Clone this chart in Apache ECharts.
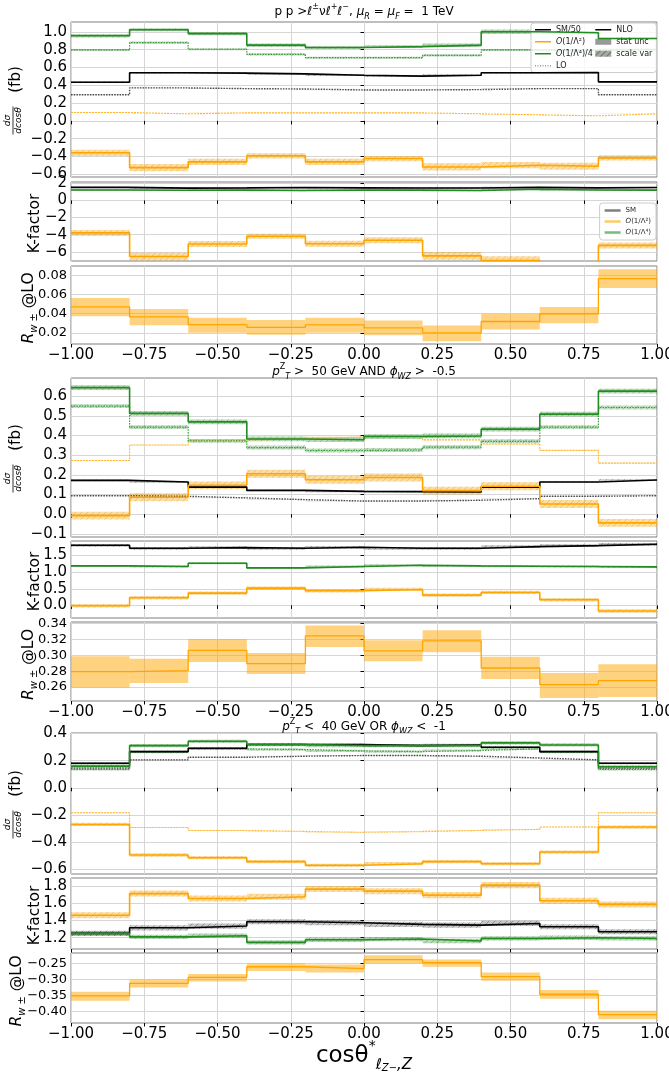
<!DOCTYPE html>
<html>
<head>
<meta charset="utf-8">
<script src="https://cdn.jsdelivr.net/npm/echarts@6/dist/echarts.min.js"></script>
<style>
  html, body { margin: 0; padding: 0; background: #fff; }
  #chart { width: 669px; height: 1074px; }
</style>
</head>
<body>
<div id="chart"></div>
<script>
// cos(theta*) bin edges shared by every panel
const binEdges = [-1.0, -0.8, -0.6, -0.4, -0.2, 0.0, 0.2, 0.4, 0.6, 0.8, 1.0];

// ---- selection 1: inclusive ----
const p1SmNlo = [0.434, 0.540, 0.536, 0.528, 0.513, 0.502, 0.513, 0.540, 0.543, 0.438];
const p1SmLo  = [0.294, 0.370, 0.362, 0.358, 0.347, 0.347, 0.351, 0.362, 0.362, 0.294];
const p1Q2Nlo = [-0.358, -0.525, -0.460, -0.392, -0.460, -0.423, -0.517, -0.498, -0.509, -0.415];
const p1Q2Lo  = [0.094, 0.079, 0.090, 0.090, 0.090, 0.090, 0.079, 0.068, 0.057, 0.079];
const p1Q4Nlo = [0.955, 1.023, 0.980, 0.850, 0.823, 0.834, 0.850, 1.000, 0.990, 0.925];
const p1Q4Lo  = [0.796, 0.879, 0.804, 0.747, 0.709, 0.709, 0.736, 0.796, 0.790, 0.800];
const p1Q2NloErr = [0.035, 0.040, 0.035, 0.030, 0.035, 0.030, 0.040, 0.035, 0.040, 0.030];
const p1Q4NloErr = [0.020, 0.018, 0.018, 0.020, 0.015, 0.015, 0.020, 0.025, 0.020, 0.015];
const p1KSm = [1.52, 1.44, 1.46, 1.50, 1.47, 1.45, 1.45, 1.52, 1.47, 1.50];
const p1KQ2 = [-3.79, -6.55, -5.09, -4.18, -5.05, -4.65, -6.47, -7.02, -8.90, -5.25];
const p1KQ4 = [1.22, 1.18, 1.22, 1.16, 1.20, 1.20, 1.16, 1.30, 1.22, 1.20];
const p1KQ2Err = [0.35, 0.45, 0.35, 0.30, 0.35, 0.35, 0.45, 0.50, 0.60, 0.35];
const p1R   = [0.0472, 0.0367, 0.0287, 0.0259, 0.0284, 0.0252, 0.0200, 0.0319, 0.0400, 0.0765];
const p1RLo = [0.0374, 0.0280, 0.0203, 0.0180, 0.0203, 0.0176, 0.0113, 0.0235, 0.0300, 0.0668];
const p1RHi = [0.0563, 0.0450, 0.0357, 0.0336, 0.0357, 0.0330, 0.0277, 0.0400, 0.0469, 0.0863];

// ---- selection 2: pT(Z) > 50 GeV AND phi_WZ > -0.5 ----
const p2SmNlo = [0.172, 0.164, 0.138, 0.121, 0.116, 0.115, 0.113, 0.138, 0.164, 0.174];
const p2SmLo  = [0.094, 0.091, 0.083, 0.074, 0.067, 0.067, 0.071, 0.079, 0.091, 0.094];
const p2Q2Nlo = [-0.007, 0.086, 0.147, 0.206, 0.175, 0.187, 0.120, 0.142, 0.052, -0.044];
const p2Q2Lo  = [0.273, 0.352, 0.378, 0.383, 0.393, 0.400, 0.378, 0.357, 0.325, 0.260];
const p2Q4Nlo = [0.644, 0.513, 0.470, 0.383, 0.379, 0.395, 0.398, 0.433, 0.509, 0.626];
const p2Q4Lo  = [0.550, 0.443, 0.373, 0.339, 0.324, 0.327, 0.341, 0.371, 0.443, 0.543];
const p2KSm = [1.81, 1.72, 1.74, 1.72, 1.75, 1.72, 1.72, 1.77, 1.80, 1.84];
const p2KQ2 = [-0.01, 0.23, 0.37, 0.52, 0.44, 0.48, 0.31, 0.39, 0.17, -0.17];
const p2KQ4 = [1.19, 1.17, 1.27, 1.13, 1.17, 1.21, 1.19, 1.18, 1.17, 1.16];
const p2R   = [0.2794, 0.2806, 0.3063, 0.2895, 0.3244, 0.3055, 0.3181, 0.2840, 0.2630, 0.2680];
const p2RLo = [0.2592, 0.2650, 0.2916, 0.2764, 0.3105, 0.2924, 0.3038, 0.2701, 0.2461, 0.2474];
const p2RHi = [0.2987, 0.2958, 0.3206, 0.3030, 0.3375, 0.3190, 0.3316, 0.2983, 0.2777, 0.2886];

// ---- selection 3: pT(Z) < 40 GeV OR phi_WZ < -1 ----
const p3SmNlo = [0.181, 0.267, 0.292, 0.319, 0.319, 0.311, 0.316, 0.299, 0.267, 0.181];
const p3SmLo  = [0.145, 0.206, 0.225, 0.233, 0.238, 0.238, 0.233, 0.220, 0.206, 0.145];
const p3Q2Nlo = [-0.270, -0.495, -0.515, -0.544, -0.571, -0.559, -0.544, -0.559, -0.473, -0.289];
const p3Q2Lo  = [-0.184, -0.292, -0.314, -0.321, -0.328, -0.323, -0.314, -0.306, -0.289, -0.184];
const p3Q4Nlo = [0.160, 0.311, 0.343, 0.319, 0.311, 0.311, 0.311, 0.331, 0.316, 0.155];
const p3Q4Lo  = [0.135, 0.262, 0.287, 0.282, 0.272, 0.267, 0.275, 0.287, 0.262, 0.135];
const p3KSm = [1.250, 1.315, 1.335, 1.385, 1.373, 1.354, 1.346, 1.365, 1.327, 1.269];
const p3KQ2 = [1.460, 1.710, 1.654, 1.673, 1.762, 1.738, 1.692, 1.808, 1.627, 1.585];
const p3KQ4 = [1.250, 1.210, 1.223, 1.146, 1.177, 1.185, 1.162, 1.192, 1.200, 1.192];
const p3R   = [-0.351, -0.312, -0.293, -0.260, -0.266, -0.238, -0.247, -0.291, -0.346, -0.410];
const p3RLo = [-0.366, -0.325, -0.306, -0.273, -0.278, -0.250, -0.260, -0.304, -0.360, -0.424];
const p3RHi = [-0.338, -0.300, -0.283, -0.250, -0.253, -0.224, -0.237, -0.278, -0.333, -0.398];

// y tick labels of the nine panels
const p1MainTicks = [-0.6, -0.4, -0.2, 0.0, 0.2, 0.4, 0.6, 0.8, 1.0];
const p1KTicks    = [-6, -4, -2, 0, 2];
const p1RTicks    = [0.02, 0.04, 0.06, 0.08];
const p2MainTicks = [-0.1, 0.0, 0.1, 0.2, 0.3, 0.4, 0.5, 0.6];
const p2KTicks    = [0.0, 0.5, 1.0, 1.5];
const p2RTicks    = [0.26, 0.28, 0.30, 0.32, 0.34];
const p3MainTicks = [-0.6, -0.4, -0.2, 0.0, 0.2, 0.4];
const p3KTicks    = [1.2, 1.4, 1.6, 1.8];
const p3RTicks    = [-0.40, -0.35, -0.30, -0.25];

// panel layout (pixels), y ranges and where each rotated y title sits
const PLOT_LEFT = 71, PLOT_RIGHT = 12;
const panels = [
  { top: 22,  height: 155, ymin: -0.63,  ymax: 1.11,  ticks: p1MainTicks, dec: 1, kind: 'main', nameX: 16 },
  { top: 182, height: 79,  ymin: -7.07,  ymax: 2.15,  ticks: p1KTicks,    dec: 0, kind: 'k', nameX: 34.5 },
  { top: 266, height: 78,  ymin: 0.0085, ymax: 0.0897, ticks: p1RTicks,   dec: 2, kind: 'r', nameX: 29 },
  { top: 378, height: 159, ymin: -0.116, ymax: 0.693, ticks: p2MainTicks, dec: 1, kind: 'main', nameX: 16 },
  { top: 541, height: 77,  ymin: -0.38,  ymax: 1.94,  ticks: p2KTicks,    dec: 1, kind: 'k', nameX: 34.5 },
  { top: 622, height: 79,  ymin: 0.2424, ymax: 0.342, ticks: p2RTicks,    dec: 2, kind: 'r', nameX: 29 },
  { top: 733, height: 141, ymin: -0.635, ymax: 0.404, ticks: p3MainTicks, dec: 1, kind: 'main', nameX: 16 },
  { top: 878, height: 71,  ymin: 1.07,   ymax: 1.89,  ticks: p3KTicks,    dec: 1, kind: 'k', nameX: 34.5 },
  { top: 953, height: 70,  ymin: -0.436, ymax: -0.217, ticks: p3RTicks,   dec: 2, kind: 'r', nameX: 17 }
];

const C_SM = '#000000', C_Q2 = '#ffa500', C_Q4 = '#228b22';
const FONT = 'DejaVu Sans';

function hatch(stroke, bg) {
  const c = document.createElement('canvas');
  c.width = 6; c.height = 6;
  const g = c.getContext('2d');
  if (bg) { g.fillStyle = bg; g.fillRect(0, 0, 6, 6); }
  g.strokeStyle = stroke; g.lineWidth = 0.8;
  g.beginPath();
  g.moveTo(0, 6); g.lineTo(6, 0);
  g.moveTo(-1, 1); g.lineTo(1, -1);
  g.moveTo(5, 7); g.lineTo(7, 5);
  g.stroke();
  return { image: c, repeat: 'repeat' };
}
const fills = {
  sm: 'rgba(0,0,0,0.22)', q2: 'rgba(255,165,0,0.38)', q4: 'rgba(34,139,34,0.33)',
  r: 'rgba(255,165,0,0.5)'
};
const hatches = {
  sm: hatch('rgba(0,0,0,0.35)'), q2: hatch('rgba(230,140,0,0.45)'), q4: hatch('rgba(20,110,20,0.35)')
};

function fmt(dec) {
  return v => (v < -1e-9 ? '\u2212' : '') + Math.abs(v).toFixed(dec);
}
function stepData(vals) {
  return binEdges.map((x, i) => [x, vals[Math.min(i, vals.length - 1)]]);
}
function spread(vals, err) {
  return vals.map((v, i) => {
    const e = Array.isArray(err) ? err[i] : err;
    return [binEdges[i], binEdges[i + 1], v - e, v + e];
  });
}
function rangeData(lo, hi) {
  return lo.map((l, i) => [binEdges[i], binEdges[i + 1], l, hi[i]]);
}

const series = [];
function band(gi, data, fill, pattern) {
  series.push({
    type: 'custom', xAxisIndex: gi, yAxisIndex: gi, data, z: 2, silent: true,
    encode: { x: [0, 1], y: [2, 3] },
    renderItem: (params, api) => {
      const p0 = api.coord([api.value(0), api.value(3)]);
      const p1 = api.coord([api.value(1), api.value(2)]);
      const cs = params.coordSys;
      const shape = echarts.graphic.clipRectByRect(
        { x: p0[0], y: p0[1], width: p1[0] - p0[0], height: p1[1] - p0[1] },
        { x: cs.x, y: cs.y, width: cs.width, height: cs.height });
      if (!shape) return null;
      const children = [{ type: 'rect', shape, style: { fill } }];
      if (pattern) children.push({ type: 'rect', shape, style: { fill: pattern } });
      return { type: 'group', children };
    }
  });
}
function step(gi, name, vals, color, width, dash, z) {
  series.push({
    type: 'line', name, xAxisIndex: gi, yAxisIndex: gi, data: stepData(vals),
    step: 'end', symbol: 'none', showSymbol: false, clip: true, silent: true, z: z || 4,
    lineStyle: { color, width, type: dash || 'solid' }, itemStyle: { color }
  });
}

// main distributions: NLO and LO with uncertainty bands
function mainPanel(gi, tag, d, smName, q2Name, q4Name, loName) {
  band(gi, spread(d.smNlo, d.smErr), fills.sm, hatches.sm);
  band(gi, spread(d.smLo, d.smLoErr), 'rgba(0,0,0,0.12)', null);
  band(gi, spread(d.q2Nlo, d.q2Err), fills.q2, hatches.q2);
  band(gi, spread(d.q2Lo, d.q2LoErr), 'rgba(255,165,0,0.25)', null);
  band(gi, spread(d.q4Nlo, d.q4Err), fills.q4, hatches.q4);
  band(gi, spread(d.q4Lo, d.q4LoErr), 'rgba(34,139,34,0.28)', hatches.q4);
  step(gi, loName, d.smLo, '#4a4a4a', 1.4, [1.5, 1.2], 3);
  step(gi, 'q2 LO ' + tag, d.q2Lo, '#ffb733', 1.1, [2, 1], 3);
  step(gi, 'q4 LO ' + tag, d.q4Lo, '#3a9a3a', 1.2, [1.5, 1.2], 3);
  step(gi, smName, d.smNlo, C_SM, 1.6);
  step(gi, q2Name, d.q2Nlo, C_Q2, 1.6);
  step(gi, q4Name, d.q4Nlo, C_Q4, 1.6);
}
function kPanel(gi, sm, q2, q4, smErr, q2Err, q4Err) {
  band(gi, spread(sm, smErr), fills.sm, hatches.sm);
  band(gi, spread(q2, q2Err), fills.q2, hatches.q2);
  band(gi, spread(q4, q4Err), fills.q4, hatches.q4);
  step(gi, 'SM', sm, C_SM, 1.6);
  step(gi, 'O(1/Λ²)', q2, C_Q2, 1.6);
  step(gi, 'O(1/Λ⁴)', q4, C_Q4, 1.6);
}
function rPanel(gi, vals, lo, hi) {
  band(gi, rangeData(lo, hi), fills.r, null);
  step(gi, 'R ' + gi, vals, C_Q2, 1.3);
}

mainPanel(0, 'p1', {
  smNlo: p1SmNlo, smErr: 0.010, smLo: p1SmLo, smLoErr: 0.004,
  q2Nlo: p1Q2Nlo, q2Err: p1Q2NloErr, q2Lo: p1Q2Lo, q2LoErr: 0.003,
  q4Nlo: p1Q4Nlo, q4Err: p1Q4NloErr, q4Lo: p1Q4Lo, q4LoErr: 0.012
}, 'SM/50', 'O(1/Λ²)', 'O(1/Λ⁴)/4', 'LO');
kPanel(1, p1KSm, p1KQ2, p1KQ4, 0.08, p1KQ2Err, 0.08);
rPanel(2, p1R, p1RLo, p1RHi);

mainPanel(3, 'p2', {
  smNlo: p2SmNlo, smErr: 0.004, smLo: p2SmLo, smLoErr: 0.002,
  q2Nlo: p2Q2Nlo, q2Err: 0.020, q2Lo: p2Q2Lo, q2LoErr: 0.002,
  q4Nlo: p2Q4Nlo, q4Err: 0.012, q4Lo: p2Q4Lo, q4LoErr: 0.010
}, 'SM p2', 'q2 p2', 'q4 p2', 'LO p2');
kPanel(4, p2KSm, p2KQ2, p2KQ4, 0.04, 0.05, 0.03);
rPanel(5, p2R, p2RLo, p2RHi);

mainPanel(6, 'p3', {
  smNlo: p3SmNlo, smErr: 0.008, smLo: p3SmLo, smLoErr: 0.004,
  q2Nlo: p3Q2Nlo, q2Err: 0.012, q2Lo: p3Q2Lo, q2LoErr: 0.003,
  q4Nlo: p3Q4Nlo, q4Err: 0.012, q4Lo: p3Q4Lo, q4LoErr: 0.008
}, 'SM p3', 'q2 p3', 'q4 p3', 'LO p3');
kPanel(7, p3KSm, p3KQ2, p3KQ4, 0.03, 0.035, 0.025);
rPanel(8, p3R, p3RLo, p3RHi);

// legend-only entries
const statFill = 'rgba(0,0,0,0.5)';
const scaleFill = hatch('rgba(0,0,0,0.9)', 'rgba(120,120,120,0.8)');
series.push({ type: 'line', name: 'NLO', xAxisIndex: 0, yAxisIndex: 0, data: [], symbol: 'none',
  lineStyle: { color: '#000', width: 1.5 }, itemStyle: { color: '#000' } });
series.push({ type: 'scatter', name: 'stat unc', xAxisIndex: 0, yAxisIndex: 0, data: [],
  itemStyle: { color: statFill } });
series.push({ type: 'scatter', name: 'scale var', xAxisIndex: 0, yAxisIndex: 0, data: [],
  itemStyle: { color: scaleFill } });

// legend glyphs: a short line, a dotted line, a thick line and a patch
const ICON_LINE = 'path://M0,0H32V3H0Z';
const ICON_DOTS = 'path://M0,0H2V3H0ZM5,0H7V3H5ZM10,0H12V3H10ZM15,0H17V3H15ZM20,0H22V3H20ZM25,0H27V3H25ZM30,0H32V3H30Z';
const ICON_THICK = 'path://M0,0H32V5H0Z';
const ICON_PATCH = 'path://M0,0H32V12H0Z';

const italicO = n => n.indexOf('O(') === 0 ? '{it|O}' + n.slice(1) : n;

const grids = panels.map(p => ({
  left: PLOT_LEFT, right: PLOT_RIGHT, top: p.top, height: p.height,
  containLabel: false, outerBoundsMode: 'none',
  show: true, borderColor: '#7f7f7f', borderWidth: 1, backgroundColor: '#fff'
}));

const xAxes = panels.map((p, i) => ({
  type: 'value', gridIndex: i, min: -1, max: 1, interval: 0.25,
  axisLine: { show: false },
  axisTick: { show: true, length: 3.5, lineStyle: { color: '#000', width: 1 } },
  axisLabel: { show: p.kind === 'r', fontSize: 15, color: '#000', margin: 4, fontFamily: FONT,
               formatter: fmt(2), alignMinLabel: 'center', alignMaxLabel: 'center' },
  splitLine: { show: true, lineStyle: { color: '#d6d6d6', width: 1 } }
}));

const yAxes = panels.map((p, i) => ({
  type: 'value', gridIndex: i, min: p.ymin, max: p.ymax,
  axisLine: { show: false },
  axisTick: { show: true, length: 3.5, lineStyle: { color: '#000', width: 1 }, customValues: p.ticks },
  axisLabel: { fontSize: p.kind === 'r' ? 13 : 15, color: '#000', margin: 4, fontFamily: FONT,
               formatter: fmt(p.dec), customValues: p.ticks },
  splitLine: { show: true, lineStyle: { color: '#d6d6d6', width: 1 } }
}));

// panel titles, rotated axis titles and the shared x title
const titleRich = {
  sp: { fontSize: 8, fontFamily: FONT, verticalAlign: 'top', lineHeight: 10 },
  sb: { fontSize: 8, fontFamily: FONT, fontStyle: 'italic', verticalAlign: 'bottom', lineHeight: 10 },
  it: { fontSize: 12, fontFamily: FONT, fontStyle: 'italic', lineHeight: 18, verticalAlign: 'middle' }
};
const titles = [
  { y: 12,  text: 'p p >ℓ{sp|±}νℓ{sp|+}ℓ{sp|−}, {it|μ}{sb|R} = {it|μ}{sb|F} =  1 TeV' },
  { y: 372, text: '{it|p}{sp|Z}{sb|T} >  50 GeV AND {it|ϕ}{sb|WZ} >  -0.5' },
  { y: 727, text: '{it|p}{sp|Z}{sb|T} <  40 GeV OR {it|ϕ}{sb|WZ} <  -1' }
];
const plotCenterX = PLOT_LEFT + (669 - PLOT_LEFT - PLOT_RIGHT) / 2;
const graphics = titles.map(t => ({
  type: 'text', x: plotCenterX, y: t.y, silent: true,
  style: { text: t.text, rich: titleRich, fontSize: 12, fontFamily: FONT, fill: '#000',
           align: 'center', verticalAlign: 'middle', lineHeight: 18 }
}));
function vText(x, y, text, size, rich) {
  return { type: 'text', x, y, rotation: Math.PI / 2, silent: true,
    style: { text, rich, fontSize: size, fontFamily: FONT, fill: '#000', align: 'center', verticalAlign: 'middle' } };
}
const rRich = {
  it: { fontSize: 15.5, fontStyle: 'italic', fontFamily: FONT, verticalAlign: 'middle', lineHeight: 20 },
  sb: { fontSize: 10, fontStyle: 'italic', fontFamily: FONT, verticalAlign: 'bottom', lineHeight: 12 }
};
panels.forEach(p => {
  const cy = p.top + p.height / 2;
  if (p.kind === 'k') {
    graphics.push(vText(p.nameX, cy + 2, 'K-factor', 15.5));
  } else if (p.kind === 'r') {
    graphics.push(vText(p.nameX, cy + 3, '{it|R}{sb|w ±} @LO', 15.5, rRich));
  } else {
    graphics.push(vText(p.nameX, cy - 20, '(fb)', 15));
    graphics.push({
      type: 'group', x: p.nameX - 3, y: cy + 21, rotation: Math.PI / 2, silent: true,
      children: [
        { type: 'text', x: 0, y: -1, style: { text: 'dσ', fontSize: 9, fontStyle: 'italic', fontFamily: FONT,
            fill: '#000', align: 'center', verticalAlign: 'bottom' } },
        { type: 'line', shape: { x1: -14, y1: 0, x2: 14, y2: 0 }, style: { stroke: '#000', lineWidth: 0.8 } },
        { type: 'text', x: 0, y: 1, style: { text: 'dcosθ', fontSize: 9, fontStyle: 'italic', fontFamily: FONT,
            fill: '#000', align: 'center', verticalAlign: 'top' } }
      ]
    });
  }
});
graphics.push({
  type: 'text', x: plotCenterX, y: 1056, silent: true,
  style: {
    text: '{m|cosθ}{sp|*}{sb|ℓ}{ss|Z}{sp2|−}{sb|,Z}', fontSize: 23, fontFamily: FONT, fill: '#000',
    align: 'center', verticalAlign: 'middle',
    rich: {
      m: { fontSize: 23, fontFamily: FONT, lineHeight: 34, verticalAlign: 'middle' },
      sp: { fontSize: 14, fontFamily: FONT, verticalAlign: 'top', lineHeight: 16 },
      sb: { fontSize: 15, fontFamily: FONT, fontStyle: 'italic', verticalAlign: 'bottom', lineHeight: 26 },
      ss: { fontSize: 10, fontFamily: FONT, fontStyle: 'italic', verticalAlign: 'bottom', lineHeight: 18 },
      sp2: { fontSize: 10, fontFamily: FONT, verticalAlign: 'bottom', lineHeight: 34 }
    }
  }
});

const chart = echarts.init(document.getElementById('chart'), null, { renderer: 'canvas' });
chart.setOption({
  animation: false,
  backgroundColor: '#ffffff',
  textStyle: { fontFamily: FONT },
  grid: grids,
  xAxis: xAxes,
  yAxis: yAxes,
  legend: [
    {
      orient: 'vertical', left: 531, top: 23, height: 46, itemGap: 2.5,
      itemWidth: 16, itemHeight: 8, padding: [2, 4], selectedMode: false,
      backgroundColor: 'rgba(255,255,255,0.8)', borderColor: '#cccccc', borderWidth: 1, borderRadius: 3,
      textStyle: { fontSize: 8, color: '#222', fontFamily: FONT, lineHeight: 9.5,
                   rich: { it: { fontSize: 8, fontStyle: 'italic', fontFamily: FONT } } },
      formatter: italicO,
      data: [
        { name: 'SM/50', icon: ICON_LINE },
        { name: 'O(1/Λ²)', icon: ICON_LINE },
        { name: 'O(1/Λ⁴)/4', icon: ICON_LINE },
        { name: 'LO', icon: ICON_DOTS, itemStyle: { color: '#9a9a9a' } },
        { name: 'NLO', icon: ICON_LINE },
        { name: 'stat unc', icon: ICON_PATCH, itemStyle: { color: statFill } },
        { name: 'scale var', icon: ICON_PATCH, itemStyle: { color: scaleFill } }
      ]
    },
    {
      orient: 'vertical', right: 13, top: 203, itemGap: 4,
      itemWidth: 16, itemHeight: 8, padding: [4, 5], selectedMode: false,
      backgroundColor: 'rgba(255,255,255,0.8)', borderColor: '#cccccc', borderWidth: 1, borderRadius: 3,
      textStyle: { fontSize: 7, color: '#222', fontFamily: FONT,
                   rich: { it: { fontSize: 7, fontStyle: 'italic', fontFamily: FONT } } },
      formatter: italicO,
      data: [
        { name: 'SM', icon: ICON_THICK, itemStyle: { color: '#000', opacity: 0.5 } },
        { name: 'O(1/Λ²)', icon: ICON_THICK, itemStyle: { color: C_Q2, opacity: 0.6 } },
        { name: 'O(1/Λ⁴)', icon: ICON_THICK, itemStyle: { color: C_Q4, opacity: 0.6 } }
      ]
    }
  ],
  graphic: graphics,
  series
});
</script>
</body>
</html>
